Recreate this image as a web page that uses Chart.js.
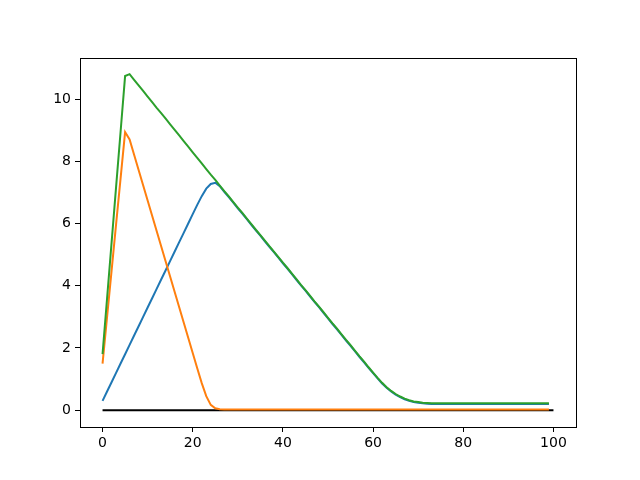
<!DOCTYPE html>
<html>
<head>
<meta charset="utf-8">
<script src="https://cdn.jsdelivr.net/npm/chart.js@4/dist/chart.umd.min.js"></script>
<style>
  html, body { margin: 0; padding: 0; background: #fff; }
</style>
</head>
<body>
<canvas id="chart" width="640" height="480"></canvas>
<script>
// sample index for the coloured curves (0..99), baseline runs 0..100
const steps = Array.from(new Array(100), (_, i) => i);
const baselineX = [0, 100];
const baselineY = [0, 0];

const blueValues = [
    0.30, 0.60, 0.90, 1.20, 1.50, 1.80, 2.10, 2.40, 2.70, 3.00,
    3.30, 3.60, 3.90, 4.20, 4.50, 4.80, 5.10, 5.40, 5.70, 6.00,
    6.30, 6.60, 6.88, 7.12, 7.27, 7.31, 7.20, 7.02, 6.85, 6.67,
    6.49, 6.32, 6.14, 5.96, 5.78, 5.61, 5.43, 5.25, 5.08, 4.90,
    4.72, 4.55, 4.37, 4.19, 4.01, 3.84, 3.66, 3.48, 3.31, 3.13,
    2.95, 2.77, 2.60, 2.42, 2.24, 2.07, 1.89, 1.71, 1.54, 1.36,
    1.19, 1.02, 0.86, 0.72, 0.60, 0.50, 0.42, 0.35, 0.30, 0.26,
    0.24, 0.22, 0.21, 0.20, 0.20, 0.20, 0.20, 0.20, 0.20, 0.20,
    0.20, 0.20, 0.20, 0.20, 0.20, 0.20, 0.20, 0.20, 0.20, 0.20,
    0.20, 0.20, 0.20, 0.20, 0.20, 0.20, 0.20, 0.20, 0.20, 0.20
];

const orangeValues = [
    1.50, 2.99, 4.48, 5.97, 7.45, 8.94, 8.70, 8.21, 7.72, 7.23,
    6.74, 6.25, 5.76, 5.27, 4.78, 4.29, 3.80, 3.31, 2.82, 2.33,
    1.84, 1.35, 0.87, 0.45, 0.17, 0.06, 0.03, 0.02, 0.02, 0.02,
    0.02, 0.02, 0.02, 0.02, 0.02, 0.02, 0.02, 0.02, 0.02, 0.02,
    0.02, 0.02, 0.02, 0.02, 0.02, 0.02, 0.02, 0.02, 0.02, 0.02,
    0.02, 0.02, 0.02, 0.02, 0.02, 0.02, 0.02, 0.02, 0.02, 0.02,
    0.02, 0.02, 0.02, 0.02, 0.02, 0.02, 0.02, 0.02, 0.02, 0.02,
    0.02, 0.02, 0.02, 0.02, 0.02, 0.02, 0.02, 0.02, 0.02, 0.02,
    0.02, 0.02, 0.02, 0.02, 0.02, 0.02, 0.02, 0.02, 0.02, 0.02,
    0.02, 0.02, 0.02, 0.02, 0.02, 0.02, 0.02, 0.02, 0.02, 0.02
];

const greenValues = [
    1.80, 3.59, 5.38, 7.17, 8.95, 10.74, 10.80, 10.62, 10.44, 10.26,
    10.08, 9.90, 9.72, 9.55, 9.37, 9.19, 9.01, 8.83, 8.65, 8.47,
    8.29, 8.11, 7.93, 7.75, 7.57, 7.40, 7.22, 7.04, 6.87, 6.69,
    6.51, 6.34, 6.16, 5.98, 5.80, 5.63, 5.45, 5.27, 5.10, 4.92,
    4.74, 4.57, 4.39, 4.21, 4.03, 3.86, 3.68, 3.50, 3.33, 3.15,
    2.97, 2.79, 2.62, 2.44, 2.26, 2.09, 1.91, 1.73, 1.56, 1.38,
    1.21, 1.04, 0.88, 0.74, 0.62, 0.52, 0.44, 0.37, 0.32, 0.28,
    0.26, 0.24, 0.23, 0.22, 0.22, 0.22, 0.22, 0.22, 0.22, 0.22,
    0.22, 0.22, 0.22, 0.22, 0.22, 0.22, 0.22, 0.22, 0.22, 0.22,
    0.22, 0.22, 0.22, 0.22, 0.22, 0.22, 0.22, 0.22, 0.22, 0.22
];

const xTicks = [0, 20, 40, 60, 80, 100];
const yTicks = [0, 2, 4, 6, 8, 10];

const toPoints = (xs, ys) => xs.map((x, i) => ({ x: x, y: ys[i] }));

// box round the plot area, like matplotlib's spines
const frame = {
    id: "frame",
    afterDraw(chart) {
        const a = chart.chartArea;
        const ctx = chart.ctx;
        ctx.save();
        ctx.strokeStyle = "#000";
        ctx.lineWidth = 1;
        ctx.strokeRect(Math.round(a.left) + 0.5, Math.round(a.top) + 0.5,
            Math.round(a.right - a.left), Math.round(a.bottom - a.top));
        ctx.restore();
    }
};

Chart.defaults.font.family = "'DejaVu Sans', sans-serif";
Chart.defaults.font.size = 14;
Chart.defaults.color = "#000";

const line = (data, color, order) => ({
    data: data,
    borderColor: color,
    backgroundColor: color,
    borderWidth: 2,
    pointRadius: 0,
    fill: false,
    tension: 0,
    order: order
});

new Chart(document.getElementById("chart"), {
    type: "line",
    data: {
        datasets: [
            line(toPoints(steps, greenValues), "#2ca02c", 0),
            line(toPoints(steps, orangeValues), "#ff7f0e", 1),
            line(toPoints(steps, blueValues), "#1f77b4", 2),
            line(toPoints(baselineX, baselineY), "#000000", 3)
        ]
    },
    options: {
        responsive: false,
        animation: false,
        devicePixelRatio: 1,
        layout: { padding: { top: 58, right: 64, left: 0, bottom: 0 } },
        plugins: { legend: { display: false }, tooltip: { enabled: false } },
        scales: {
            x: {
                type: "linear",
                min: -5,
                max: 105,
                afterFit: (s) => { s.height = 53; },
                afterBuildTicks: (s) => { s.ticks = xTicks.map(v => ({ value: v })); },
                ticks: { padding: 3, maxRotation: 0, includeBounds: false },
                grid: { drawOnChartArea: false, tickLength: 5, tickColor: "#000" },
                border: { color: "#000" }
            },
            y: {
                type: "linear",
                min: -0.54,
                max: 11.32,
                afterFit: (s) => { s.width = 80; },
                afterBuildTicks: (s) => { s.ticks = yTicks.map(v => ({ value: v })); },
                ticks: { padding: 4, includeBounds: false },
                grid: { drawOnChartArea: false, tickLength: 5, tickColor: "#000" },
                border: { color: "#000" }
            }
        }
    },
    plugins: [frame]
});
</script>
</body>
</html>
